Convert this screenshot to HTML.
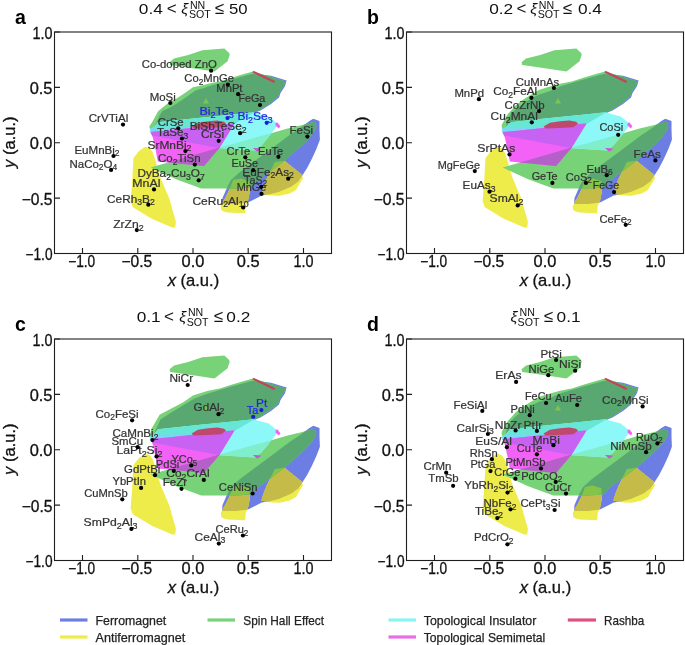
<!DOCTYPE html>
<html><head><meta charset="utf-8"><style>html,body{margin:0;padding:0;background:#fff;overflow:hidden}svg{display:block;will-change:transform}</style></head><body>
<svg width="685" height="645" viewBox="0 0 685 645" font-family='"Liberation Sans", sans-serif'>
<rect width="100%" height="100%" fill="#fff"/>
<defs><clipPath id="cB1a"><polygon points="505.7,127.5 508.3,123.1 511.4,115.7 514.5,111.0 521.6,107.7 528.9,103.4 537.7,97.5 547.9,90.2 557.0,87.8 560.0,86.5 583.4,79.6 604.4,73.8 612.0,74.5 623.0,75.8 638.6,80.4 637.0,86.2 632.5,93.0 631.0,97.5 623.0,104.0 612.5,110.5 606.5,113.0 575.0,115.5 550.0,118.0 510.0,122.3"/></clipPath><clipPath id="cB2a"><polygon points="576.7,193.0 580.0,185.5 583.0,180.0 592.0,172.0 606.0,161.5 625.0,147.5 640.5,135.8 652.1,128.1 661.4,121.1 665.3,118.8 671.5,121.1 671.5,129.6 671.9,139.7 668.4,149.0 663.8,159.1 659.1,168.0 654.0,176.0 650.5,181.3 643.5,186.5 631.3,191.8 620.8,194.4 613.8,195.5 600.0,202.6 588.0,204.0 574.0,204.0 574.5,198.0"/></clipPath><clipPath id="cG1a"><polygon points="501.3,126.6 504.4,121.8 510.1,111.3 514.3,107.7 521.6,101.9 528.9,98.2 537.7,92.4 545.0,87.3 557.0,84.8 560.0,83.7 571.7,81.4 583.4,77.8 595.0,74.3 605.0,71.4 622.0,76.5 637.6,81.4 635.7,85.9 631.3,92.6 629.8,97.0 622.3,103.0 611.9,109.7 606.0,112.6 586.9,123.7 584.7,123.5 503.9,131.4 502.0,129.0"/></clipPath><clipPath id="cG2a"><polygon points="502.6,167.6 521.0,162.2 571.6,147.5 622.3,133.6 639.6,128.6 654.5,124.9 665.7,121.8 666.9,121.9 668.4,127.3 663.8,135.1 657.6,142.0 650.6,148.2 644.4,153.7 636.8,160.4 622.5,171.2 611.1,179.5 603.5,187.4 588.0,188.5 576.7,188.5 553.2,188.4 550.6,187.5 528.2,179.2"/></clipPath><clipPath id="cCYa"><polygon points="502.5,128.5 505.7,127.5 510.0,122.3 550.0,118.0 575.0,115.5 605.5,112.3 611.4,114.0 620.7,116.4 627.7,122.2 630.5,123.5 627.5,128.0 619.0,139.0 613.0,146.0 607.0,150.5 572.0,148.2 504.0,135.5 501.5,131.0"/></clipPath><clipPath id="cY2a"><polygon points="626.9,162.0 636.5,160.7 654.0,174.7 654.9,178.6 651.4,183.9 647.9,190.0 641.8,193.5 631.3,195.7 620.8,195.3 613.3,193.5 615.5,186.5 619.0,177.8 622.5,170.8"/></clipPath><clipPath id="cY3a"><polygon points="581.7,188.8 585.2,179.8 592.9,178.4 601.3,181.2 602.0,190.9 599.9,201.4 597.8,205.6 597.1,213.3 579.0,212.6 573.4,210.5 572.7,206.3 575.5,200.7 577.2,197.9"/></clipPath></defs>
<g transform="translate(-352,0)">
<polygon points="505.7,127.5 508.3,123.1 511.4,115.7 514.5,111.0 521.6,107.7 528.9,103.4 537.7,97.5 547.9,90.2 557.0,87.8 560.0,86.5 583.4,79.6 604.4,73.8 612.0,74.5 623.0,75.8 638.6,80.4 637.0,86.2 632.5,93.0 631.0,97.5 623.0,104.0 612.5,110.5 606.5,113.0 575.0,115.5 550.0,118.0 510.0,122.3" fill="#6c7ee4"/>
<polygon points="576.7,193.0 580.0,185.5 583.0,180.0 592.0,172.0 606.0,161.5 625.0,147.5 640.5,135.8 652.1,128.1 661.4,121.1 665.3,118.8 671.5,121.1 671.5,129.6 671.9,139.7 668.4,149.0 663.8,159.1 659.1,168.0 654.0,176.0 650.5,181.3 643.5,186.5 631.3,191.8 620.8,194.4 613.8,195.5 600.0,202.6 588.0,204.0 574.0,204.0 574.5,198.0" fill="#6c7ee4"/>
<polygon points="485.5,158.0 491.0,151.0 497.5,146.5 502.0,148.5 504.5,152.0 508.0,162.1 509.4,168.0 512.6,178.0 521.3,198.4 527.9,221.8 527.2,227.6 524.2,227.6 503.8,218.8 484.8,207.2 482.6,201.3 484.0,183.8" fill="#eeec4a"/>
<polygon points="626.9,162.0 636.5,160.7 654.0,174.7 654.9,178.6 651.4,183.9 647.9,190.0 641.8,193.5 631.3,195.7 620.8,195.3 613.3,193.5 615.5,186.5 619.0,177.8 622.5,170.8" fill="#eeec4a"/>
<polygon points="581.7,188.8 585.2,179.8 592.9,178.4 601.3,181.2 602.0,190.9 599.9,201.4 597.8,205.6 597.1,213.3 579.0,212.6 573.4,210.5 572.7,206.3 575.5,200.7 577.2,197.9" fill="#eeec4a"/>
<g clip-path="url(#cB2a)"><polygon points="626.9,162.0 636.5,160.7 654.0,174.7 654.9,178.6 651.4,183.9 647.9,190.0 641.8,193.5 631.3,195.7 620.8,195.3 613.3,193.5 615.5,186.5 619.0,177.8 622.5,170.8" fill="#c4bb48"/><polygon points="581.7,188.8 585.2,179.8 592.9,178.4 601.3,181.2 602.0,190.9 599.9,201.4 597.8,205.6 597.1,213.3 579.0,212.6 573.4,210.5 572.7,206.3 575.5,200.7 577.2,197.9" fill="#c4bb48"/></g>
<polygon points="521.6,62.3 526.0,58.4 540.2,55.1 554.4,50.2 576.3,48.6 580.7,52.4 581.8,54.6 579.6,61.2 566.5,71.6 553.3,69.4 541.3,67.7 526.0,65.5 522.1,65.0" fill="#78d278"/>
<polygon points="501.3,126.6 504.4,121.8 510.1,111.3 514.3,107.7 521.6,101.9 528.9,98.2 537.7,92.4 545.0,87.3 557.0,84.8 560.0,83.7 571.7,81.4 583.4,77.8 595.0,74.3 605.0,71.4 622.0,76.5 637.6,81.4 635.7,85.9 631.3,92.6 629.8,97.0 622.3,103.0 611.9,109.7 606.0,112.6 586.9,123.7 584.7,123.5 503.9,131.4 502.0,129.0" fill="#78d278"/>
<polygon points="502.6,167.6 521.0,162.2 571.6,147.5 622.3,133.6 639.6,128.6 654.5,124.9 665.7,121.8 666.9,121.9 668.4,127.3 663.8,135.1 657.6,142.0 650.6,148.2 644.4,153.7 636.8,160.4 622.5,171.2 611.1,179.5 603.5,187.4 588.0,188.5 576.7,188.5 553.2,188.4 550.6,187.5 528.2,179.2" fill="#78d278"/>
<g clip-path="url(#cB1a)"><polygon points="501.3,126.6 504.4,121.8 510.1,111.3 514.3,107.7 521.6,101.9 528.9,98.2 537.7,92.4 545.0,87.3 557.0,84.8 560.0,83.7 571.7,81.4 583.4,77.8 595.0,74.3 605.0,71.4 622.0,76.5 637.6,81.4 635.7,85.9 631.3,92.6 629.8,97.0 622.3,103.0 611.9,109.7 606.0,112.6 586.9,123.7 584.7,123.5 503.9,131.4 502.0,129.0" fill="#59a872"/></g>
<g clip-path="url(#cB2a)"><polygon points="502.6,167.6 521.0,162.2 571.6,147.5 622.3,133.6 639.6,128.6 654.5,124.9 665.7,121.8 666.9,121.9 668.4,127.3 663.8,135.1 657.6,142.0 650.6,148.2 644.4,153.7 636.8,160.4 622.5,171.2 611.1,179.5 603.5,187.4 588.0,188.5 576.7,188.5 553.2,188.4 550.6,187.5 528.2,179.2" fill="#59a872"/></g>
<g clip-path="url(#cY2a)"><polygon points="502.6,167.6 521.0,162.2 571.6,147.5 622.3,133.6 639.6,128.6 654.5,124.9 665.7,121.8 666.9,121.9 668.4,127.3 663.8,135.1 657.6,142.0 650.6,148.2 644.4,153.7 636.8,160.4 622.5,171.2 611.1,179.5 603.5,187.4 588.0,188.5 576.7,188.5 553.2,188.4 550.6,187.5 528.2,179.2" fill="#84c44a"/></g>
<g clip-path="url(#cY3a)"><polygon points="502.6,167.6 521.0,162.2 571.6,147.5 622.3,133.6 639.6,128.6 654.5,124.9 665.7,121.8 666.9,121.9 668.4,127.3 663.8,135.1 657.6,142.0 650.6,148.2 644.4,153.7 636.8,160.4 622.5,171.2 611.1,179.5 603.5,187.4 588.0,188.5 576.7,188.5 553.2,188.4 550.6,187.5 528.2,179.2" fill="#84c44a"/></g>
<polygon points="502.5,128.5 505.7,127.5 510.0,122.3 550.0,118.0 575.0,115.5 605.5,112.3 611.4,114.0 620.7,116.4 627.7,122.2 630.5,123.5 627.5,128.0 619.0,139.0 613.0,146.0 607.0,150.5 572.0,148.2 504.0,135.5 501.5,131.0" fill="#8cf8f8"/>
<g clip-path="url(#cG1a)"><polygon points="502.5,128.5 505.7,127.5 510.0,122.3 550.0,118.0 575.0,115.5 605.5,112.3 611.4,114.0 620.7,116.4 627.7,122.2 630.5,123.5 627.5,128.0 619.0,139.0 613.0,146.0 607.0,150.5 572.0,148.2 504.0,135.5 501.5,131.0" fill="#66e6d4"/></g>
<g clip-path="url(#cG2a)"><polygon points="502.5,128.5 505.7,127.5 510.0,122.3 550.0,118.0 575.0,115.5 605.5,112.3 611.4,114.0 620.7,116.4 627.7,122.2 630.5,123.5 627.5,128.0 619.0,139.0 613.0,146.0 607.0,150.5 572.0,148.2 504.0,135.5 501.5,131.0" fill="#80eecb"/></g>
<polygon points="502.5,128.5 505.7,127.5 530.0,127.3 566.0,125.5 548.0,127.8 517.5,131.0 505.3,132.2 502.5,131.8" fill="#78d8f0"/>
<polygon points="502.5,132.0 517.5,130.8 548.0,127.5 584.7,123.5 586.5,123.5 571.6,147.8 556.0,166.0 509.8,161.5 508.0,152.0 505.0,138.0" fill="#f262f6"/>
<polygon points="627.6,123.0 629.5,122.5 632.4,126.2 630.8,128.6 627.5,125.5" fill="#f262f6"/>
<polygon points="605.1,147.9 613.2,148.7 609.2,151.6" fill="#f262f6"/>
<g clip-path="url(#cCYa)"><polygon points="502.5,132.0 517.5,130.8 548.0,127.5 584.7,123.5 586.5,123.5 571.6,147.8 556.0,166.0 509.8,161.5 508.0,152.0 505.0,138.0" fill="#c862f2"/></g>
<g clip-path="url(#cG2a)"><polygon points="502.5,132.0 517.5,130.8 548.0,127.5 584.7,123.5 586.5,123.5 571.6,147.8 556.0,166.0 509.8,161.5 508.0,152.0 505.0,138.0" fill="#b460c8"/><polygon points="605.1,147.9 613.2,148.7 609.2,151.6" fill="#b460c8"/></g>
<polygon points="543.5,126.5 550.0,122.8 560.0,121.3 569.4,120.5 576.0,121.8 578.0,123.6 573.5,127.2 560.0,128.0 545.5,128.6" fill="#c0486e"/>
<line x1="605" y1="71.6" x2="626.6" y2="82" stroke="#c8405a" stroke-width="2"/>
<polygon points="554.8,103.6 561.0,103.6 558.0,98.0" fill="#7cc450"/>
</g>
<g font-size="11.2" stroke-width="0.22">
<text x="141.7" y="68.0" textLength="75.2" lengthAdjust="spacingAndGlyphs" fill="#333333" stroke="#333333">Co-doped ZnO</text>
<text x="184.3" y="81.9" textLength="49.6" lengthAdjust="spacingAndGlyphs" fill="#333333" stroke="#333333">Co<tspan dy="2.6" font-size="8.2">2</tspan><tspan dy="-2.6">MnGe</tspan></text>
<text x="216.3" y="91.5" textLength="26.2" lengthAdjust="spacingAndGlyphs" fill="#333333" stroke="#333333">MnPt</text>
<text x="238.4" y="102.3" textLength="26.9" lengthAdjust="spacingAndGlyphs" fill="#333333" stroke="#333333">FeGa</text>
<text x="149.7" y="100.7" textLength="26.1" lengthAdjust="spacingAndGlyphs" fill="#333333" stroke="#333333">MoSi</text>
<text x="88.7" y="122.4" textLength="39.6" lengthAdjust="spacingAndGlyphs" fill="#333333" stroke="#333333">CrVTiAl</text>
<text x="199.4" y="115.2" textLength="34.5" lengthAdjust="spacingAndGlyphs" fill="#2424e6" stroke="#2424e6">Bi<tspan dy="2.6" font-size="8.2">2</tspan><tspan dy="-2.6">Te</tspan><tspan dy="2.6" font-size="8.2">3</tspan></text>
<text x="237.4" y="120.1" textLength="35.3" lengthAdjust="spacingAndGlyphs" fill="#2424e6" stroke="#2424e6">Bi<tspan dy="2.6" font-size="8.2">2</tspan><tspan dy="-2.6">Se</tspan><tspan dy="2.6" font-size="8.2">3</tspan></text>
<text x="157.7" y="125.8" textLength="25.9" lengthAdjust="spacingAndGlyphs" fill="#333333" stroke="#333333">CrSe</text>
<text x="189.7" y="130.0" textLength="56.9" lengthAdjust="spacingAndGlyphs" fill="#333333" stroke="#333333">BiSbTeSe<tspan dy="2.6" font-size="8.2">2</tspan></text>
<text x="157.1" y="136.0" textLength="31.2" lengthAdjust="spacingAndGlyphs" fill="#333333" stroke="#333333">TaSe<tspan dy="2.6" font-size="8.2">3</tspan></text>
<text x="201.0" y="138.4" textLength="23.1" lengthAdjust="spacingAndGlyphs" fill="#333333" stroke="#333333">CrSi</text>
<text x="147.5" y="148.6" textLength="43.9" lengthAdjust="spacingAndGlyphs" fill="#333333" stroke="#333333">SrMnBi<tspan dy="2.6" font-size="8.2">2</tspan></text>
<text x="158.1" y="161.9" textLength="42.5" lengthAdjust="spacingAndGlyphs" fill="#333333" stroke="#333333">Co<tspan dy="2.6" font-size="8.2">2</tspan><tspan dy="-2.6">TiSn</tspan></text>
<text x="137.4" y="177.4" textLength="67.3" lengthAdjust="spacingAndGlyphs" fill="#333333" stroke="#333333">DyBa<tspan dy="2.6" font-size="8.2">2</tspan><tspan dy="-2.6">Cu</tspan><tspan dy="2.6" font-size="8.2">3</tspan><tspan dy="-2.6">O</tspan><tspan dy="2.6" font-size="8.2">7</tspan></text>
<text x="132.3" y="186.9" textLength="28.1" lengthAdjust="spacingAndGlyphs" fill="#333333" stroke="#333333">MnAl</text>
<text x="107.1" y="202.6" textLength="47.6" lengthAdjust="spacingAndGlyphs" fill="#333333" stroke="#333333">CeRh<tspan dy="2.6" font-size="8.2">3</tspan><tspan dy="-2.6">B</tspan><tspan dy="2.6" font-size="8.2">2</tspan></text>
<text x="113.2" y="228.1" textLength="30.5" lengthAdjust="spacingAndGlyphs" fill="#333333" stroke="#333333">ZrZn<tspan dy="2.6" font-size="8.2">2</tspan></text>
<text x="74.4" y="153.5" textLength="45.2" lengthAdjust="spacingAndGlyphs" fill="#333333" stroke="#333333">EuMnBi<tspan dy="2.6" font-size="8.2">2</tspan></text>
<text x="69.5" y="167.8" textLength="47.6" lengthAdjust="spacingAndGlyphs" fill="#333333" stroke="#333333">NaCo<tspan dy="2.6" font-size="8.2">2</tspan><tspan dy="-2.6">O</tspan><tspan dy="2.6" font-size="8.2">4</tspan></text>
<text x="226.6" y="154.7" textLength="23.8" lengthAdjust="spacingAndGlyphs" fill="#333333" stroke="#333333">CrTe</text>
<text x="258.1" y="154.6" textLength="25.1" lengthAdjust="spacingAndGlyphs" fill="#333333" stroke="#333333">EuTe</text>
<text x="289.5" y="133.8" textLength="23.6" lengthAdjust="spacingAndGlyphs" fill="#333333" stroke="#333333">FeSi</text>
<text x="231.4" y="166.5" textLength="26.7" lengthAdjust="spacingAndGlyphs" fill="#333333" stroke="#333333">EuSe</text>
<text x="242.3" y="175.6" textLength="51.6" lengthAdjust="spacingAndGlyphs" fill="#333333" stroke="#333333">EuFe<tspan dy="2.6" font-size="8.2">2</tspan><tspan dy="-2.6">As</tspan><tspan dy="2.6" font-size="8.2">2</tspan></text>
<text x="244.1" y="183.5" textLength="23.0" lengthAdjust="spacingAndGlyphs" fill="#333333" stroke="#333333">TaS<tspan dy="2.6" font-size="8.2">2</tspan></text>
<text x="236.7" y="191.0" textLength="29.6" lengthAdjust="spacingAndGlyphs" fill="#333333" stroke="#333333">MnGe</text>
<text x="192.4" y="204.8" textLength="56.2" lengthAdjust="spacingAndGlyphs" fill="#333333" stroke="#333333">CeRu<tspan dy="2.6" font-size="8.2">2</tspan><tspan dy="-2.6">Al</tspan><tspan dy="2.6" font-size="8.2">10</tspan></text>
</g>
<circle cx="211.1" cy="70.7" r="2.1" fill="#000"/>
<circle cx="227.9" cy="84.6" r="2.1" fill="#000"/>
<circle cx="238.1" cy="94.2" r="2.1" fill="#000"/>
<circle cx="260.0" cy="105.0" r="2.1" fill="#000"/>
<circle cx="170.3" cy="103.0" r="2.1" fill="#000"/>
<circle cx="123.0" cy="124.6" r="2.1" fill="#000"/>
<circle cx="227.5" cy="118.1" r="2.1" fill="#1a1ae0"/>
<circle cx="266.7" cy="122.8" r="2.1" fill="#1a1ae0"/>
<circle cx="178.2" cy="128.3" r="2.1" fill="#000"/>
<circle cx="240.1" cy="133.2" r="2.1" fill="#000"/>
<circle cx="181.9" cy="138.5" r="2.1" fill="#000"/>
<circle cx="218.7" cy="140.8" r="2.1" fill="#000"/>
<circle cx="185.4" cy="151.1" r="2.1" fill="#000"/>
<circle cx="194.8" cy="164.6" r="2.1" fill="#000"/>
<circle cx="198.7" cy="180.3" r="2.1" fill="#000"/>
<circle cx="154.0" cy="189.4" r="2.1" fill="#000"/>
<circle cx="148.3" cy="204.7" r="2.1" fill="#000"/>
<circle cx="136.8" cy="230.1" r="2.1" fill="#000"/>
<circle cx="113.5" cy="156.0" r="2.1" fill="#000"/>
<circle cx="111.1" cy="169.9" r="2.1" fill="#000"/>
<circle cx="245.3" cy="157.3" r="2.1" fill="#000"/>
<circle cx="278.4" cy="156.8" r="2.1" fill="#000"/>
<circle cx="307.4" cy="136.6" r="2.1" fill="#000"/>
<circle cx="253.2" cy="170.2" r="2.1" fill="#000"/>
<circle cx="288.2" cy="178.7" r="2.1" fill="#000"/>
<circle cx="261.2" cy="186.8" r="2.1" fill="#000"/>
<circle cx="261.5" cy="193.8" r="2.1" fill="#000"/>
<circle cx="243.2" cy="207.5" r="2.1" fill="#000"/>
<rect x="54.5" y="32.0" width="277.0" height="221.5" fill="none" stroke="#1e1e1e" stroke-width="1.1"/>
<path d="M82.5 253.5v-5.5M54.5 253.5h5.5M137.8 253.5v-5.5M54.5 198.1h5.5M193.0 253.5v-5.5M54.5 142.8h5.5M248.2 253.5v-5.5M54.5 87.4h5.5M303.5 253.5v-5.5M54.5 32.0h5.5" stroke="#1e1e1e" stroke-width="1.1" fill="none"/>
<g font-size="15.8" fill="#111" stroke="#111" stroke-width="0.3">
<text x="81.7" y="266.9" text-anchor="middle" textLength="27.0" lengthAdjust="spacingAndGlyphs">−1.0</text>
<text x="52.5" y="260.1" text-anchor="end" textLength="27.0" lengthAdjust="spacingAndGlyphs">−1.0</text>
<text x="136.9" y="266.9" text-anchor="middle" textLength="30.8" lengthAdjust="spacingAndGlyphs">−0.5</text>
<text x="52.5" y="204.7" text-anchor="end" textLength="30.8" lengthAdjust="spacingAndGlyphs">−0.5</text>
<text x="193.0" y="266.9" text-anchor="middle" textLength="22.8" lengthAdjust="spacingAndGlyphs">0.0</text>
<text x="52.5" y="149.3" text-anchor="end" textLength="22.8" lengthAdjust="spacingAndGlyphs">0.0</text>
<text x="248.2" y="266.9" text-anchor="middle" textLength="22.8" lengthAdjust="spacingAndGlyphs">0.5</text>
<text x="52.5" y="94.0" text-anchor="end" textLength="22.8" lengthAdjust="spacingAndGlyphs">0.5</text>
<text x="303.5" y="266.9" text-anchor="middle" textLength="20.0" lengthAdjust="spacingAndGlyphs">1.0</text>
<text x="52.5" y="38.6" text-anchor="end" textLength="20.0" lengthAdjust="spacingAndGlyphs">1.0</text>
</g>
<text x="193.4" y="286.4" font-size="16.6" text-anchor="middle" fill="#111" stroke="#111" stroke-width="0.3" textLength="51.5" lengthAdjust="spacingAndGlyphs"><tspan font-style="italic">x</tspan> (a.u.)</text>
<text transform="translate(14.9,142.2) rotate(-90)" font-size="16.6" text-anchor="middle" fill="#111" stroke="#111" stroke-width="0.3" textLength="51.5" lengthAdjust="spacingAndGlyphs"><tspan font-style="italic">y</tspan> (a.u.)</text>
<text x="14.9" y="23.7" font-size="19.5" font-weight="bold" fill="#000">a</text>
<text x="150.8" y="14.2" font-size="15.3" text-anchor="middle" fill="#111" textLength="24.0" lengthAdjust="spacingAndGlyphs">0.4</text>
<text x="171.7" y="14.2" font-size="17" text-anchor="middle" fill="#111"><</text>
<text x="184.6" y="14.2" font-size="15.5" font-style="italic" text-anchor="middle" fill="#111">ξ</text>
<text x="197.6" y="8.9" font-size="10.6" text-anchor="middle" fill="#111">NN</text>
<text x="199.8" y="18.4" font-size="10.6" text-anchor="middle" fill="#111">SOT</text>
<text x="219.5" y="14.2" font-size="17" text-anchor="middle" fill="#111">≤</text>
<text x="238.3" y="14.2" font-size="15.3" text-anchor="middle" fill="#111" textLength="18.6" lengthAdjust="spacingAndGlyphs">50</text>
<defs><clipPath id="cB1b"><polygon points="505.7,127.5 507.5,119.0 510.9,114.1 515.5,109.5 523.3,103.3 532.6,97.8 538.8,94.7 550.0,90.9 560.0,86.5 583.4,79.6 604.4,73.8 612.0,74.5 623.0,75.8 638.6,80.4 637.0,86.2 632.5,93.0 631.0,97.5 623.0,104.0 612.5,110.5 606.5,113.0 575.0,115.5 550.0,118.0 510.0,122.3"/></clipPath><clipPath id="cB2b"><polygon points="576.7,193.0 580.0,185.5 583.0,180.0 592.0,172.0 606.0,161.5 625.0,147.5 640.5,135.8 652.1,128.1 661.4,121.1 665.3,118.8 671.5,121.1 671.5,129.6 671.9,139.7 668.4,149.0 663.8,159.1 659.1,168.0 654.0,176.0 650.5,181.3 643.5,186.5 631.3,191.8 620.8,194.4 613.8,195.5 600.0,202.6 588.0,204.0 574.0,204.0 574.5,198.0"/></clipPath><clipPath id="cG1b"><polygon points="501.6,125.0 507.8,114.1 515.5,105.6 523.3,99.4 531.0,94.7 538.8,90.1 546.5,87.4 560.0,83.7 571.7,81.4 583.4,77.8 595.0,74.3 605.0,71.4 622.0,76.5 637.6,81.4 635.7,85.9 631.3,92.6 629.8,97.0 622.3,103.0 611.9,109.7 606.0,112.6 586.9,123.7 584.7,123.5 503.9,131.4 502.0,129.0"/></clipPath><clipPath id="cG2b"><polygon points="502.6,167.6 521.0,162.2 571.6,147.5 622.3,133.6 639.6,128.6 654.5,124.9 665.7,121.8 666.9,121.9 668.4,127.3 663.8,135.1 657.6,142.0 650.6,148.2 644.4,153.7 636.8,160.4 622.5,171.2 611.1,179.5 603.5,187.4 588.0,188.5 576.7,188.5 553.2,188.4 550.6,187.5 528.2,179.2"/></clipPath><clipPath id="cCYb"><polygon points="502.5,128.5 505.7,127.5 510.0,122.3 550.0,118.0 575.0,115.5 605.5,112.3 611.4,114.0 620.7,116.4 627.7,122.2 630.5,123.5 627.5,128.0 619.0,139.0 613.0,146.0 607.0,150.5 572.0,148.2 504.0,135.5 501.5,131.0"/></clipPath><clipPath id="cY2b"><polygon points="626.9,162.0 636.5,160.7 654.0,174.7 654.9,178.6 651.4,183.9 647.9,190.0 641.8,193.5 631.3,195.7 620.8,195.3 613.3,193.5 615.5,186.5 619.0,177.8 622.5,170.8"/></clipPath><clipPath id="cY3b"><polygon points="581.7,188.8 585.2,179.8 592.9,178.4 601.3,181.2 602.0,190.9 599.9,201.4 597.8,205.6 597.1,213.3 579.0,212.6 573.4,210.5 572.7,206.3 575.5,200.7 577.2,197.9"/></clipPath></defs>
<g transform="translate(0,0)">
<polygon points="505.7,127.5 507.5,119.0 510.9,114.1 515.5,109.5 523.3,103.3 532.6,97.8 538.8,94.7 550.0,90.9 560.0,86.5 583.4,79.6 604.4,73.8 612.0,74.5 623.0,75.8 638.6,80.4 637.0,86.2 632.5,93.0 631.0,97.5 623.0,104.0 612.5,110.5 606.5,113.0 575.0,115.5 550.0,118.0 510.0,122.3" fill="#6c7ee4"/>
<polygon points="576.7,193.0 580.0,185.5 583.0,180.0 592.0,172.0 606.0,161.5 625.0,147.5 640.5,135.8 652.1,128.1 661.4,121.1 665.3,118.8 671.5,121.1 671.5,129.6 671.9,139.7 668.4,149.0 663.8,159.1 659.1,168.0 654.0,176.0 650.5,181.3 643.5,186.5 631.3,191.8 620.8,194.4 613.8,195.5 600.0,202.6 588.0,204.0 574.0,204.0 574.5,198.0" fill="#6c7ee4"/>
<polygon points="485.5,158.0 491.0,151.0 497.5,146.5 502.0,148.5 504.5,152.0 508.0,162.1 509.4,168.0 512.6,178.0 521.3,198.4 527.9,221.8 527.2,227.6 524.2,227.6 503.8,218.8 484.8,207.2 482.6,201.3 484.0,183.8" fill="#eeec4a"/>
<polygon points="626.9,162.0 636.5,160.7 654.0,174.7 654.9,178.6 651.4,183.9 647.9,190.0 641.8,193.5 631.3,195.7 620.8,195.3 613.3,193.5 615.5,186.5 619.0,177.8 622.5,170.8" fill="#eeec4a"/>
<polygon points="581.7,188.8 585.2,179.8 592.9,178.4 601.3,181.2 602.0,190.9 599.9,201.4 597.8,205.6 597.1,213.3 579.0,212.6 573.4,210.5 572.7,206.3 575.5,200.7 577.2,197.9" fill="#eeec4a"/>
<g clip-path="url(#cB2b)"><polygon points="626.9,162.0 636.5,160.7 654.0,174.7 654.9,178.6 651.4,183.9 647.9,190.0 641.8,193.5 631.3,195.7 620.8,195.3 613.3,193.5 615.5,186.5 619.0,177.8 622.5,170.8" fill="#c4bb48"/><polygon points="581.7,188.8 585.2,179.8 592.9,178.4 601.3,181.2 602.0,190.9 599.9,201.4 597.8,205.6 597.1,213.3 579.0,212.6 573.4,210.5 572.7,206.3 575.5,200.7 577.2,197.9" fill="#c4bb48"/></g>
<polygon points="521.6,62.3 526.0,58.4 540.2,55.1 554.4,50.2 576.3,48.6 580.7,52.4 581.8,54.6 579.6,61.2 566.5,71.6 553.3,69.4 541.3,67.7 526.0,65.5 522.1,65.0" fill="#78d278"/>
<polygon points="501.6,125.0 507.8,114.1 515.5,105.6 523.3,99.4 531.0,94.7 538.8,90.1 546.5,87.4 560.0,83.7 571.7,81.4 583.4,77.8 595.0,74.3 605.0,71.4 622.0,76.5 637.6,81.4 635.7,85.9 631.3,92.6 629.8,97.0 622.3,103.0 611.9,109.7 606.0,112.6 586.9,123.7 584.7,123.5 503.9,131.4 502.0,129.0" fill="#78d278"/>
<polygon points="502.6,167.6 521.0,162.2 571.6,147.5 622.3,133.6 639.6,128.6 654.5,124.9 665.7,121.8 666.9,121.9 668.4,127.3 663.8,135.1 657.6,142.0 650.6,148.2 644.4,153.7 636.8,160.4 622.5,171.2 611.1,179.5 603.5,187.4 588.0,188.5 576.7,188.5 553.2,188.4 550.6,187.5 528.2,179.2" fill="#78d278"/>
<g clip-path="url(#cB1b)"><polygon points="501.6,125.0 507.8,114.1 515.5,105.6 523.3,99.4 531.0,94.7 538.8,90.1 546.5,87.4 560.0,83.7 571.7,81.4 583.4,77.8 595.0,74.3 605.0,71.4 622.0,76.5 637.6,81.4 635.7,85.9 631.3,92.6 629.8,97.0 622.3,103.0 611.9,109.7 606.0,112.6 586.9,123.7 584.7,123.5 503.9,131.4 502.0,129.0" fill="#59a872"/></g>
<g clip-path="url(#cB2b)"><polygon points="502.6,167.6 521.0,162.2 571.6,147.5 622.3,133.6 639.6,128.6 654.5,124.9 665.7,121.8 666.9,121.9 668.4,127.3 663.8,135.1 657.6,142.0 650.6,148.2 644.4,153.7 636.8,160.4 622.5,171.2 611.1,179.5 603.5,187.4 588.0,188.5 576.7,188.5 553.2,188.4 550.6,187.5 528.2,179.2" fill="#59a872"/></g>
<g clip-path="url(#cY2b)"><polygon points="502.6,167.6 521.0,162.2 571.6,147.5 622.3,133.6 639.6,128.6 654.5,124.9 665.7,121.8 666.9,121.9 668.4,127.3 663.8,135.1 657.6,142.0 650.6,148.2 644.4,153.7 636.8,160.4 622.5,171.2 611.1,179.5 603.5,187.4 588.0,188.5 576.7,188.5 553.2,188.4 550.6,187.5 528.2,179.2" fill="#84c44a"/></g>
<g clip-path="url(#cY3b)"><polygon points="502.6,167.6 521.0,162.2 571.6,147.5 622.3,133.6 639.6,128.6 654.5,124.9 665.7,121.8 666.9,121.9 668.4,127.3 663.8,135.1 657.6,142.0 650.6,148.2 644.4,153.7 636.8,160.4 622.5,171.2 611.1,179.5 603.5,187.4 588.0,188.5 576.7,188.5 553.2,188.4 550.6,187.5 528.2,179.2" fill="#84c44a"/></g>
<polygon points="502.5,128.5 505.7,127.5 510.0,122.3 550.0,118.0 575.0,115.5 605.5,112.3 611.4,114.0 620.7,116.4 627.7,122.2 630.5,123.5 627.5,128.0 619.0,139.0 613.0,146.0 607.0,150.5 572.0,148.2 504.0,135.5 501.5,131.0" fill="#8cf8f8"/>
<g clip-path="url(#cG1b)"><polygon points="502.5,128.5 505.7,127.5 510.0,122.3 550.0,118.0 575.0,115.5 605.5,112.3 611.4,114.0 620.7,116.4 627.7,122.2 630.5,123.5 627.5,128.0 619.0,139.0 613.0,146.0 607.0,150.5 572.0,148.2 504.0,135.5 501.5,131.0" fill="#66e6d4"/></g>
<g clip-path="url(#cG2b)"><polygon points="502.5,128.5 505.7,127.5 510.0,122.3 550.0,118.0 575.0,115.5 605.5,112.3 611.4,114.0 620.7,116.4 627.7,122.2 630.5,123.5 627.5,128.0 619.0,139.0 613.0,146.0 607.0,150.5 572.0,148.2 504.0,135.5 501.5,131.0" fill="#80eecb"/></g>
<polygon points="502.5,128.5 505.7,127.5 530.0,127.3 566.0,125.5 548.0,127.8 517.5,131.0 505.3,132.2 502.5,131.8" fill="#78d8f0"/>
<polygon points="502.5,132.0 517.5,130.8 548.0,127.5 584.7,123.5 586.5,123.5 571.6,147.8 556.0,166.0 509.8,161.5 508.0,152.0 505.0,138.0" fill="#f262f6"/>
<polygon points="627.6,123.0 629.5,122.5 632.4,126.2 630.8,128.6 627.5,125.5" fill="#f262f6"/>
<polygon points="605.1,147.9 613.2,148.7 609.2,151.6" fill="#f262f6"/>
<g clip-path="url(#cCYb)"><polygon points="502.5,132.0 517.5,130.8 548.0,127.5 584.7,123.5 586.5,123.5 571.6,147.8 556.0,166.0 509.8,161.5 508.0,152.0 505.0,138.0" fill="#c862f2"/></g>
<g clip-path="url(#cG2b)"><polygon points="502.5,132.0 517.5,130.8 548.0,127.5 584.7,123.5 586.5,123.5 571.6,147.8 556.0,166.0 509.8,161.5 508.0,152.0 505.0,138.0" fill="#b460c8"/><polygon points="605.1,147.9 613.2,148.7 609.2,151.6" fill="#b460c8"/></g>
<polygon points="543.5,126.5 550.0,122.8 560.0,121.3 569.4,120.5 576.0,121.8 578.0,123.6 573.5,127.2 560.0,128.0 545.5,128.6" fill="#c0486e"/>
<line x1="605" y1="71.6" x2="626.6" y2="82" stroke="#c8405a" stroke-width="2"/>
<polygon points="554.8,103.6 561.0,103.6 558.0,98.0" fill="#7cc450"/>
</g>
<g font-size="11.2" stroke-width="0.22">
<text x="454.4" y="96.8" textLength="29.7" lengthAdjust="spacingAndGlyphs" fill="#333333" stroke="#333333">MnPd</text>
<text x="515.8" y="85.5" textLength="43.5" lengthAdjust="spacingAndGlyphs" fill="#333333" stroke="#333333">CuMnAs</text>
<text x="493.3" y="95.4" textLength="43.9" lengthAdjust="spacingAndGlyphs" fill="#333333" stroke="#333333">Co<tspan dy="2.6" font-size="8.2">2</tspan><tspan dy="-2.6">FeAl</tspan></text>
<text x="504.5" y="108.6" textLength="40.1" lengthAdjust="spacingAndGlyphs" fill="#333333" stroke="#333333">CoZrNb</text>
<text x="490.6" y="119.9" textLength="47.2" lengthAdjust="spacingAndGlyphs" fill="#333333" stroke="#333333">Cu<tspan dy="2.6" font-size="8.2">2</tspan><tspan dy="-2.6">MnAl</tspan></text>
<text x="477.3" y="151.6" textLength="38.0" lengthAdjust="spacingAndGlyphs" fill="#333333" stroke="#333333">SrPtAs</text>
<text x="437.7" y="168.6" textLength="42.3" lengthAdjust="spacingAndGlyphs" fill="#333333" stroke="#333333">MgFeGe</text>
<text x="462.6" y="189.0" textLength="32.9" lengthAdjust="spacingAndGlyphs" fill="#333333" stroke="#333333">EuAs<tspan dy="2.6" font-size="8.2">3</tspan></text>
<text x="489.6" y="202.3" textLength="33.9" lengthAdjust="spacingAndGlyphs" fill="#333333" stroke="#333333">SmAl<tspan dy="2.6" font-size="8.2">2</tspan></text>
<text x="531.7" y="179.9" textLength="25.9" lengthAdjust="spacingAndGlyphs" fill="#333333" stroke="#333333">GeTe</text>
<text x="599.4" y="131.3" textLength="23.9" lengthAdjust="spacingAndGlyphs" fill="#333333" stroke="#333333">CoSi</text>
<text x="633.6" y="158.0" textLength="27.2" lengthAdjust="spacingAndGlyphs" fill="#333333" stroke="#333333">FeAs</text>
<text x="586.6" y="172.7" textLength="26.1" lengthAdjust="spacingAndGlyphs" fill="#333333" stroke="#333333">EuB<tspan dy="2.6" font-size="8.2">6</tspan></text>
<text x="565.7" y="180.5" textLength="26.2" lengthAdjust="spacingAndGlyphs" fill="#333333" stroke="#333333">CoS<tspan dy="2.6" font-size="8.2">2</tspan></text>
<text x="592.7" y="189.0" textLength="26.6" lengthAdjust="spacingAndGlyphs" fill="#333333" stroke="#333333">FeGe</text>
<text x="599.5" y="222.8" textLength="32.0" lengthAdjust="spacingAndGlyphs" fill="#333333" stroke="#333333">CeFe<tspan dy="2.6" font-size="8.2">2</tspan></text>
</g>
<circle cx="478.9" cy="99.2" r="2.1" fill="#000"/>
<circle cx="553.9" cy="88.0" r="2.1" fill="#000"/>
<circle cx="531.4" cy="97.8" r="2.1" fill="#000"/>
<circle cx="539.1" cy="111.1" r="2.1" fill="#000"/>
<circle cx="531.8" cy="122.3" r="2.1" fill="#000"/>
<circle cx="509.5" cy="154.4" r="2.1" fill="#000"/>
<circle cx="474.8" cy="171.1" r="2.1" fill="#000"/>
<circle cx="489.5" cy="191.7" r="2.1" fill="#000"/>
<circle cx="517.7" cy="205.4" r="2.1" fill="#000"/>
<circle cx="552.4" cy="182.9" r="2.1" fill="#000"/>
<circle cx="618.2" cy="134.8" r="2.1" fill="#000"/>
<circle cx="655.4" cy="160.4" r="2.1" fill="#000"/>
<circle cx="606.7" cy="175.2" r="2.1" fill="#000"/>
<circle cx="585.9" cy="182.9" r="2.1" fill="#000"/>
<circle cx="614.1" cy="192.1" r="2.1" fill="#000"/>
<circle cx="625.7" cy="224.8" r="2.1" fill="#000"/>
<rect x="406.5" y="32.0" width="277.0" height="221.5" fill="none" stroke="#1e1e1e" stroke-width="1.1"/>
<path d="M434.5 253.5v-5.5M406.5 253.5h5.5M489.8 253.5v-5.5M406.5 198.1h5.5M545.0 253.5v-5.5M406.5 142.8h5.5M600.2 253.5v-5.5M406.5 87.4h5.5M655.5 253.5v-5.5M406.5 32.0h5.5" stroke="#1e1e1e" stroke-width="1.1" fill="none"/>
<g font-size="15.8" fill="#111" stroke="#111" stroke-width="0.3">
<text x="433.7" y="266.9" text-anchor="middle" textLength="27.0" lengthAdjust="spacingAndGlyphs">−1.0</text>
<text x="404.5" y="260.1" text-anchor="end" textLength="27.0" lengthAdjust="spacingAndGlyphs">−1.0</text>
<text x="488.9" y="266.9" text-anchor="middle" textLength="30.8" lengthAdjust="spacingAndGlyphs">−0.5</text>
<text x="404.5" y="204.7" text-anchor="end" textLength="30.8" lengthAdjust="spacingAndGlyphs">−0.5</text>
<text x="545.0" y="266.9" text-anchor="middle" textLength="22.8" lengthAdjust="spacingAndGlyphs">0.0</text>
<text x="404.5" y="149.3" text-anchor="end" textLength="22.8" lengthAdjust="spacingAndGlyphs">0.0</text>
<text x="600.2" y="266.9" text-anchor="middle" textLength="22.8" lengthAdjust="spacingAndGlyphs">0.5</text>
<text x="404.5" y="94.0" text-anchor="end" textLength="22.8" lengthAdjust="spacingAndGlyphs">0.5</text>
<text x="655.5" y="266.9" text-anchor="middle" textLength="20.0" lengthAdjust="spacingAndGlyphs">1.0</text>
<text x="404.5" y="38.6" text-anchor="end" textLength="20.0" lengthAdjust="spacingAndGlyphs">1.0</text>
</g>
<text x="545.4" y="286.4" font-size="16.6" text-anchor="middle" fill="#111" stroke="#111" stroke-width="0.3" textLength="51.5" lengthAdjust="spacingAndGlyphs"><tspan font-style="italic">x</tspan> (a.u.)</text>
<text transform="translate(366.9,142.2) rotate(-90)" font-size="16.6" text-anchor="middle" fill="#111" stroke="#111" stroke-width="0.3" textLength="51.5" lengthAdjust="spacingAndGlyphs"><tspan font-style="italic">y</tspan> (a.u.)</text>
<text x="366.9" y="23.7" font-size="19.5" font-weight="bold" fill="#000">b</text>
<text x="501.2" y="14.2" font-size="15.3" text-anchor="middle" fill="#111" textLength="24.0" lengthAdjust="spacingAndGlyphs">0.2</text>
<text x="521.4" y="14.2" font-size="17" text-anchor="middle" fill="#111"><</text>
<text x="533.6" y="14.2" font-size="15.5" font-style="italic" text-anchor="middle" fill="#111">ξ</text>
<text x="546.5" y="8.9" font-size="10.6" text-anchor="middle" fill="#111">NN</text>
<text x="548.7" y="18.4" font-size="10.6" text-anchor="middle" fill="#111">SOT</text>
<text x="567.4" y="14.2" font-size="17" text-anchor="middle" fill="#111">≤</text>
<text x="589.9" y="14.2" font-size="15.3" text-anchor="middle" fill="#111" textLength="24.0" lengthAdjust="spacingAndGlyphs">0.4</text>
<defs><clipPath id="cB1c"><polygon points="505.7,127.5 509.3,119.4 512.4,112.5 523.3,105.5 534.9,98.5 546.5,91.5 560.0,86.5 583.4,79.6 604.4,73.8 612.0,74.5 623.0,75.8 638.6,80.4 637.0,86.2 632.5,93.0 631.0,97.5 623.0,104.0 612.5,110.5 606.5,113.0 575.0,115.5 550.0,118.0 510.0,122.3"/></clipPath><clipPath id="cB2c"><polygon points="576.7,193.0 580.0,185.5 583.0,180.0 592.0,172.0 606.0,161.5 625.0,147.5 640.5,135.8 652.1,128.1 661.4,121.1 665.3,118.8 671.5,121.1 671.5,129.6 671.9,139.7 668.4,149.0 663.8,159.1 659.1,168.0 654.0,176.0 650.5,181.3 643.5,186.5 631.3,191.8 620.8,194.4 613.8,195.5 600.0,202.6 588.0,204.0 574.0,204.0 574.5,198.0"/></clipPath><clipPath id="cG1c"><polygon points="503.1,122.5 511.6,107.8 523.3,101.6 534.9,95.4 545.0,88.4 552.0,86.2 560.0,83.7 571.7,81.4 583.4,77.8 595.0,74.3 605.0,71.4 622.0,76.5 637.6,81.4 635.7,85.9 631.3,92.6 629.8,97.0 622.3,103.0 611.9,109.7 606.0,112.6 586.9,123.7 584.7,123.5 503.9,131.4 502.0,129.0"/></clipPath><clipPath id="cG2c"><polygon points="502.6,167.6 521.0,162.2 571.6,147.5 622.3,133.6 639.6,128.6 654.5,124.9 665.7,121.8 666.9,121.9 668.4,127.3 663.8,135.1 657.6,142.0 650.6,148.2 644.4,153.7 636.8,160.4 622.5,171.2 611.1,179.5 603.5,187.4 588.0,188.5 576.7,188.5 553.2,188.4 550.6,187.5 528.2,179.2"/></clipPath><clipPath id="cCYc"><polygon points="502.5,128.5 505.7,127.5 510.0,122.3 550.0,118.0 575.0,115.5 605.5,112.3 611.4,114.0 620.7,116.4 627.7,122.2 630.5,123.5 627.5,128.0 619.0,139.0 613.0,146.0 607.0,150.5 572.0,148.2 504.0,135.5 501.5,131.0"/></clipPath><clipPath id="cY2c"><polygon points="626.9,162.0 636.5,160.7 654.0,174.7 654.9,178.6 651.4,183.9 647.9,190.0 641.8,193.5 631.3,195.7 620.8,195.3 613.3,193.5 615.5,186.5 619.0,177.8 622.5,170.8"/></clipPath><clipPath id="cY3c"><polygon points="581.7,188.8 585.2,179.8 592.9,178.4 601.3,181.2 602.0,190.9 599.9,201.4 597.8,205.6 597.1,213.3 579.0,212.6 573.4,210.5 572.7,206.3 575.5,200.7 577.2,197.9"/></clipPath></defs>
<g transform="translate(-352,307)">
<polygon points="505.7,127.5 509.3,119.4 512.4,112.5 523.3,105.5 534.9,98.5 546.5,91.5 560.0,86.5 583.4,79.6 604.4,73.8 612.0,74.5 623.0,75.8 638.6,80.4 637.0,86.2 632.5,93.0 631.0,97.5 623.0,104.0 612.5,110.5 606.5,113.0 575.0,115.5 550.0,118.0 510.0,122.3" fill="#6c7ee4"/>
<polygon points="576.7,193.0 580.0,185.5 583.0,180.0 592.0,172.0 606.0,161.5 625.0,147.5 640.5,135.8 652.1,128.1 661.4,121.1 665.3,118.8 671.5,121.1 671.5,129.6 671.9,139.7 668.4,149.0 663.8,159.1 659.1,168.0 654.0,176.0 650.5,181.3 643.5,186.5 631.3,191.8 620.8,194.4 613.8,195.5 600.0,202.6 588.0,204.0 574.0,204.0 574.5,198.0" fill="#6c7ee4"/>
<polygon points="485.5,158.0 491.0,151.0 497.5,146.5 502.0,148.5 504.5,152.0 508.0,162.1 509.4,168.0 512.6,178.0 521.3,198.4 527.9,221.8 527.2,227.6 524.2,227.6 503.8,218.8 484.8,207.2 482.6,201.3 484.0,183.8" fill="#eeec4a"/>
<polygon points="626.9,162.0 636.5,160.7 654.0,174.7 654.9,178.6 651.4,183.9 647.9,190.0 641.8,193.5 631.3,195.7 620.8,195.3 613.3,193.5 615.5,186.5 619.0,177.8 622.5,170.8" fill="#eeec4a"/>
<polygon points="581.7,188.8 585.2,179.8 592.9,178.4 601.3,181.2 602.0,190.9 599.9,201.4 597.8,205.6 597.1,213.3 579.0,212.6 573.4,210.5 572.7,206.3 575.5,200.7 577.2,197.9" fill="#eeec4a"/>
<g clip-path="url(#cB2c)"><polygon points="626.9,162.0 636.5,160.7 654.0,174.7 654.9,178.6 651.4,183.9 647.9,190.0 641.8,193.5 631.3,195.7 620.8,195.3 613.3,193.5 615.5,186.5 619.0,177.8 622.5,170.8" fill="#c4bb48"/><polygon points="581.7,188.8 585.2,179.8 592.9,178.4 601.3,181.2 602.0,190.9 599.9,201.4 597.8,205.6 597.1,213.3 579.0,212.6 573.4,210.5 572.7,206.3 575.5,200.7 577.2,197.9" fill="#c4bb48"/></g>
<polygon points="521.6,62.3 526.0,58.4 540.2,55.1 554.4,50.2 576.3,48.6 580.7,52.4 581.8,54.6 579.6,61.2 566.5,71.6 553.3,69.4 541.3,67.7 526.0,65.5 522.1,65.0" fill="#78d278"/>
<polygon points="503.1,122.5 511.6,107.8 523.3,101.6 534.9,95.4 545.0,88.4 552.0,86.2 560.0,83.7 571.7,81.4 583.4,77.8 595.0,74.3 605.0,71.4 622.0,76.5 637.6,81.4 635.7,85.9 631.3,92.6 629.8,97.0 622.3,103.0 611.9,109.7 606.0,112.6 586.9,123.7 584.7,123.5 503.9,131.4 502.0,129.0" fill="#78d278"/>
<polygon points="502.6,167.6 521.0,162.2 571.6,147.5 622.3,133.6 639.6,128.6 654.5,124.9 665.7,121.8 666.9,121.9 668.4,127.3 663.8,135.1 657.6,142.0 650.6,148.2 644.4,153.7 636.8,160.4 622.5,171.2 611.1,179.5 603.5,187.4 588.0,188.5 576.7,188.5 553.2,188.4 550.6,187.5 528.2,179.2" fill="#78d278"/>
<g clip-path="url(#cB1c)"><polygon points="503.1,122.5 511.6,107.8 523.3,101.6 534.9,95.4 545.0,88.4 552.0,86.2 560.0,83.7 571.7,81.4 583.4,77.8 595.0,74.3 605.0,71.4 622.0,76.5 637.6,81.4 635.7,85.9 631.3,92.6 629.8,97.0 622.3,103.0 611.9,109.7 606.0,112.6 586.9,123.7 584.7,123.5 503.9,131.4 502.0,129.0" fill="#59a872"/></g>
<g clip-path="url(#cB2c)"><polygon points="502.6,167.6 521.0,162.2 571.6,147.5 622.3,133.6 639.6,128.6 654.5,124.9 665.7,121.8 666.9,121.9 668.4,127.3 663.8,135.1 657.6,142.0 650.6,148.2 644.4,153.7 636.8,160.4 622.5,171.2 611.1,179.5 603.5,187.4 588.0,188.5 576.7,188.5 553.2,188.4 550.6,187.5 528.2,179.2" fill="#59a872"/></g>
<g clip-path="url(#cY2c)"><polygon points="502.6,167.6 521.0,162.2 571.6,147.5 622.3,133.6 639.6,128.6 654.5,124.9 665.7,121.8 666.9,121.9 668.4,127.3 663.8,135.1 657.6,142.0 650.6,148.2 644.4,153.7 636.8,160.4 622.5,171.2 611.1,179.5 603.5,187.4 588.0,188.5 576.7,188.5 553.2,188.4 550.6,187.5 528.2,179.2" fill="#84c44a"/></g>
<g clip-path="url(#cY3c)"><polygon points="502.6,167.6 521.0,162.2 571.6,147.5 622.3,133.6 639.6,128.6 654.5,124.9 665.7,121.8 666.9,121.9 668.4,127.3 663.8,135.1 657.6,142.0 650.6,148.2 644.4,153.7 636.8,160.4 622.5,171.2 611.1,179.5 603.5,187.4 588.0,188.5 576.7,188.5 553.2,188.4 550.6,187.5 528.2,179.2" fill="#84c44a"/></g>
<polygon points="502.5,128.5 505.7,127.5 510.0,122.3 550.0,118.0 575.0,115.5 605.5,112.3 611.4,114.0 620.7,116.4 627.7,122.2 630.5,123.5 627.5,128.0 619.0,139.0 613.0,146.0 607.0,150.5 572.0,148.2 504.0,135.5 501.5,131.0" fill="#8cf8f8"/>
<g clip-path="url(#cG1c)"><polygon points="502.5,128.5 505.7,127.5 510.0,122.3 550.0,118.0 575.0,115.5 605.5,112.3 611.4,114.0 620.7,116.4 627.7,122.2 630.5,123.5 627.5,128.0 619.0,139.0 613.0,146.0 607.0,150.5 572.0,148.2 504.0,135.5 501.5,131.0" fill="#66e6d4"/></g>
<g clip-path="url(#cG2c)"><polygon points="502.5,128.5 505.7,127.5 510.0,122.3 550.0,118.0 575.0,115.5 605.5,112.3 611.4,114.0 620.7,116.4 627.7,122.2 630.5,123.5 627.5,128.0 619.0,139.0 613.0,146.0 607.0,150.5 572.0,148.2 504.0,135.5 501.5,131.0" fill="#80eecb"/></g>
<polygon points="502.5,128.5 505.7,127.5 530.0,127.3 566.0,125.5 548.0,127.8 517.5,131.0 505.3,132.2 502.5,131.8" fill="#78d8f0"/>
<polygon points="502.5,132.0 517.5,130.8 548.0,127.5 584.7,123.5 586.5,123.5 571.6,147.8 556.0,166.0 509.8,161.5 508.0,152.0 505.0,138.0" fill="#f262f6"/>
<polygon points="627.6,123.0 629.5,122.5 632.4,126.2 630.8,128.6 627.5,125.5" fill="#f262f6"/>
<polygon points="605.1,147.9 613.2,148.7 609.2,151.6" fill="#f262f6"/>
<g clip-path="url(#cCYc)"><polygon points="502.5,132.0 517.5,130.8 548.0,127.5 584.7,123.5 586.5,123.5 571.6,147.8 556.0,166.0 509.8,161.5 508.0,152.0 505.0,138.0" fill="#c862f2"/></g>
<g clip-path="url(#cG2c)"><polygon points="502.5,132.0 517.5,130.8 548.0,127.5 584.7,123.5 586.5,123.5 571.6,147.8 556.0,166.0 509.8,161.5 508.0,152.0 505.0,138.0" fill="#b460c8"/><polygon points="605.1,147.9 613.2,148.7 609.2,151.6" fill="#b460c8"/></g>
<polygon points="543.5,126.5 550.0,122.8 560.0,121.3 569.4,120.5 576.0,121.8 578.0,123.6 573.5,127.2 560.0,128.0 545.5,128.6" fill="#c0486e"/>
<line x1="605" y1="71.6" x2="626.6" y2="82" stroke="#c8405a" stroke-width="2"/>
<polygon points="554.8,103.6 561.0,103.6 558.0,98.0" fill="#7cc450"/>
</g>
<g font-size="11.2" stroke-width="0.22">
<text x="169.4" y="382.3" textLength="23.7" lengthAdjust="spacingAndGlyphs" fill="#333333" stroke="#333333">NiCr</text>
<text x="95.5" y="417.7" textLength="43.1" lengthAdjust="spacingAndGlyphs" fill="#333333" stroke="#333333">Co<tspan dy="2.6" font-size="8.2">2</tspan><tspan dy="-2.6">FeSi</tspan></text>
<text x="193.6" y="411.1" textLength="30.7" lengthAdjust="spacingAndGlyphs" fill="#333333" stroke="#333333">GdAl<tspan dy="2.6" font-size="8.2">2</tspan></text>
<text x="256.0" y="407.0" textLength="11.2" lengthAdjust="spacingAndGlyphs" fill="#2424e6" stroke="#2424e6">Pt</text>
<text x="246.8" y="414.2" textLength="11.4" lengthAdjust="spacingAndGlyphs" fill="#2424e6" stroke="#2424e6">Ta</text>
<text x="112.4" y="437.3" textLength="46.0" lengthAdjust="spacingAndGlyphs" fill="#333333" stroke="#333333">CaMnBi<tspan dy="2.6" font-size="8.2">2</tspan></text>
<text x="111.4" y="444.9" textLength="31.7" lengthAdjust="spacingAndGlyphs" fill="#333333" stroke="#333333">SmCu</text>
<text x="116.5" y="454.3" textLength="46.0" lengthAdjust="spacingAndGlyphs" fill="#333333" stroke="#333333">LaPt<tspan dy="2.6" font-size="8.2">2</tspan><tspan dy="-2.6">Si</tspan><tspan dy="2.6" font-size="8.2">2</tspan></text>
<text x="124.1" y="472.7" textLength="36.3" lengthAdjust="spacingAndGlyphs" fill="#333333" stroke="#333333">GdPtBi</text>
<text x="112.4" y="485.4" textLength="33.7" lengthAdjust="spacingAndGlyphs" fill="#333333" stroke="#333333">YbPtIn</text>
<text x="84.2" y="497.3" textLength="43.5" lengthAdjust="spacingAndGlyphs" fill="#333333" stroke="#333333">CuMnSb</text>
<text x="83.6" y="526.2" textLength="54.0" lengthAdjust="spacingAndGlyphs" fill="#333333" stroke="#333333">SmPd<tspan dy="2.6" font-size="8.2">2</tspan><tspan dy="-2.6">Al</tspan><tspan dy="2.6" font-size="8.2">3</tspan></text>
<text x="155.8" y="468.3" textLength="23.5" lengthAdjust="spacingAndGlyphs" fill="#333333" stroke="#333333">PdSi</text>
<text x="171.5" y="462.9" textLength="25.8" lengthAdjust="spacingAndGlyphs" fill="#333333" stroke="#333333">YCo<tspan dy="2.6" font-size="8.2">5</tspan></text>
<text x="166.3" y="477.2" textLength="43.3" lengthAdjust="spacingAndGlyphs" fill="#333333" stroke="#333333">Co<tspan dy="2.6" font-size="8.2">2</tspan><tspan dy="-2.6">CrAl</tspan></text>
<text x="162.7" y="485.9" textLength="24.4" lengthAdjust="spacingAndGlyphs" fill="#333333" stroke="#333333">FeZr</text>
<text x="218.8" y="490.7" textLength="38.8" lengthAdjust="spacingAndGlyphs" fill="#333333" stroke="#333333">CeNiSn</text>
<text x="215.5" y="533.0" textLength="32.9" lengthAdjust="spacingAndGlyphs" fill="#333333" stroke="#333333">CeRu<tspan dy="2.6" font-size="8.2">2</tspan></text>
<text x="194.6" y="540.6" textLength="30.7" lengthAdjust="spacingAndGlyphs" fill="#333333" stroke="#333333">CeAl<tspan dy="2.6" font-size="8.2">3</tspan></text>
</g>
<circle cx="187.7" cy="385.0" r="2.1" fill="#000"/>
<circle cx="132.1" cy="420.3" r="2.1" fill="#000"/>
<circle cx="218.5" cy="414.2" r="2.1" fill="#000"/>
<circle cx="261.4" cy="410.1" r="2.1" fill="#1a1ae0"/>
<circle cx="253.2" cy="416.8" r="2.1" fill="#1a1ae0"/>
<circle cx="152.4" cy="440.0" r="2.1" fill="#000"/>
<circle cx="137.7" cy="447.2" r="2.1" fill="#000"/>
<circle cx="156.5" cy="456.4" r="2.1" fill="#000"/>
<circle cx="155.0" cy="475.2" r="2.1" fill="#000"/>
<circle cx="141.1" cy="487.9" r="2.1" fill="#000"/>
<circle cx="122.3" cy="499.3" r="2.1" fill="#000"/>
<circle cx="131.4" cy="528.9" r="2.1" fill="#000"/>
<circle cx="173.8" cy="470.9" r="2.1" fill="#000"/>
<circle cx="191.2" cy="465.4" r="2.1" fill="#000"/>
<circle cx="203.8" cy="479.9" r="2.1" fill="#000"/>
<circle cx="181.5" cy="488.8" r="2.1" fill="#000"/>
<circle cx="252.6" cy="493.5" r="2.1" fill="#000"/>
<circle cx="242.9" cy="535.5" r="2.1" fill="#000"/>
<circle cx="218.8" cy="543.6" r="2.1" fill="#000"/>
<rect x="54.5" y="339.0" width="277.0" height="221.5" fill="none" stroke="#1e1e1e" stroke-width="1.1"/>
<path d="M82.5 560.5v-5.5M54.5 560.5h5.5M137.8 560.5v-5.5M54.5 505.1h5.5M193.0 560.5v-5.5M54.5 449.8h5.5M248.2 560.5v-5.5M54.5 394.4h5.5M303.5 560.5v-5.5M54.5 339.0h5.5" stroke="#1e1e1e" stroke-width="1.1" fill="none"/>
<g font-size="15.8" fill="#111" stroke="#111" stroke-width="0.3">
<text x="81.7" y="573.9" text-anchor="middle" textLength="27.0" lengthAdjust="spacingAndGlyphs">−1.0</text>
<text x="52.5" y="567.1" text-anchor="end" textLength="27.0" lengthAdjust="spacingAndGlyphs">−1.0</text>
<text x="136.9" y="573.9" text-anchor="middle" textLength="30.8" lengthAdjust="spacingAndGlyphs">−0.5</text>
<text x="52.5" y="511.7" text-anchor="end" textLength="30.8" lengthAdjust="spacingAndGlyphs">−0.5</text>
<text x="193.0" y="573.9" text-anchor="middle" textLength="22.8" lengthAdjust="spacingAndGlyphs">0.0</text>
<text x="52.5" y="456.4" text-anchor="end" textLength="22.8" lengthAdjust="spacingAndGlyphs">0.0</text>
<text x="248.2" y="573.9" text-anchor="middle" textLength="22.8" lengthAdjust="spacingAndGlyphs">0.5</text>
<text x="52.5" y="401.0" text-anchor="end" textLength="22.8" lengthAdjust="spacingAndGlyphs">0.5</text>
<text x="303.5" y="573.9" text-anchor="middle" textLength="20.0" lengthAdjust="spacingAndGlyphs">1.0</text>
<text x="52.5" y="345.6" text-anchor="end" textLength="20.0" lengthAdjust="spacingAndGlyphs">1.0</text>
</g>
<text x="193.4" y="593.4" font-size="16.6" text-anchor="middle" fill="#111" stroke="#111" stroke-width="0.3" textLength="51.5" lengthAdjust="spacingAndGlyphs"><tspan font-style="italic">x</tspan> (a.u.)</text>
<text transform="translate(14.9,449.2) rotate(-90)" font-size="16.6" text-anchor="middle" fill="#111" stroke="#111" stroke-width="0.3" textLength="51.5" lengthAdjust="spacingAndGlyphs"><tspan font-style="italic">y</tspan> (a.u.)</text>
<text x="14.9" y="330.7" font-size="19.5" font-weight="bold" fill="#000">c</text>
<text x="148.7" y="321.7" font-size="15.3" text-anchor="middle" fill="#111" textLength="24.0" lengthAdjust="spacingAndGlyphs">0.1</text>
<text x="169.0" y="321.7" font-size="17" text-anchor="middle" fill="#111"><</text>
<text x="182.7" y="321.7" font-size="15.5" font-style="italic" text-anchor="middle" fill="#111">ξ</text>
<text x="195.6" y="316.4" font-size="10.6" text-anchor="middle" fill="#111">NN</text>
<text x="197.7" y="325.9" font-size="10.6" text-anchor="middle" fill="#111">SOT</text>
<text x="218.5" y="321.7" font-size="17" text-anchor="middle" fill="#111">≤</text>
<text x="238.3" y="321.7" font-size="15.3" text-anchor="middle" fill="#111" textLength="24.0" lengthAdjust="spacingAndGlyphs">0.2</text>
<defs><clipPath id="cB1d"><polygon points="505.7,127.5 507.5,119.0 510.9,114.1 515.5,109.5 523.3,103.3 532.6,97.8 538.8,94.7 550.0,90.9 560.0,86.5 583.4,79.6 604.4,73.8 612.0,74.5 623.0,75.8 638.6,80.4 637.0,86.2 632.5,93.0 631.0,97.5 623.0,104.0 612.5,110.5 606.5,113.0 575.0,115.5 550.0,118.0 510.0,122.3"/></clipPath><clipPath id="cB2d"><polygon points="576.7,193.0 580.0,185.5 583.0,180.0 592.0,172.0 606.0,161.5 625.0,147.5 640.5,135.8 652.1,128.1 661.4,121.1 665.3,118.8 671.5,121.1 671.5,129.6 671.9,139.7 668.4,149.0 663.8,159.1 659.1,168.0 654.0,176.0 650.5,181.3 643.5,186.5 631.3,191.8 620.8,194.4 613.8,195.5 600.0,202.6 588.0,204.0 574.0,204.0 574.5,198.0"/></clipPath><clipPath id="cG1d"><polygon points="501.6,125.0 507.8,114.1 515.5,105.6 523.3,99.4 531.0,94.7 538.8,90.1 546.5,87.4 560.0,83.7 571.7,81.4 583.4,77.8 595.0,74.3 605.0,71.4 622.0,76.5 637.6,81.4 635.7,85.9 631.3,92.6 629.8,97.0 622.3,103.0 611.9,109.7 606.0,112.6 586.9,123.7 584.7,123.5 503.9,131.4 502.0,129.0"/></clipPath><clipPath id="cG2d"><polygon points="502.6,167.6 521.0,162.2 571.6,147.5 622.3,133.6 639.6,128.6 654.5,124.9 665.7,121.8 666.9,121.9 668.4,127.3 663.8,135.1 657.6,142.0 650.6,148.2 644.4,153.7 636.8,160.4 622.5,171.2 611.1,179.5 603.5,187.4 588.0,188.5 576.7,188.5 553.2,188.4 550.6,187.5 528.2,179.2"/></clipPath><clipPath id="cCYd"><polygon points="502.5,128.5 505.7,127.5 510.0,122.3 550.0,118.0 575.0,115.5 605.5,112.3 611.4,114.0 620.7,116.4 627.7,122.2 630.5,123.5 627.5,128.0 619.0,139.0 613.0,146.0 607.0,150.5 572.0,148.2 504.0,135.5 501.5,131.0"/></clipPath><clipPath id="cY2d"><polygon points="626.9,162.0 636.5,160.7 654.0,174.7 654.9,178.6 651.4,183.9 647.9,190.0 641.8,193.5 631.3,195.7 620.8,195.3 613.3,193.5 615.5,186.5 619.0,177.8 622.5,170.8"/></clipPath><clipPath id="cY3d"><polygon points="581.7,188.8 585.2,179.8 592.9,178.4 601.3,181.2 602.0,190.9 599.9,201.4 597.8,205.6 597.1,213.3 579.0,212.6 573.4,210.5 572.7,206.3 575.5,200.7 577.2,197.9"/></clipPath></defs>
<g transform="translate(0,307)">
<polygon points="505.7,127.5 507.5,119.0 510.9,114.1 515.5,109.5 523.3,103.3 532.6,97.8 538.8,94.7 550.0,90.9 560.0,86.5 583.4,79.6 604.4,73.8 612.0,74.5 623.0,75.8 638.6,80.4 637.0,86.2 632.5,93.0 631.0,97.5 623.0,104.0 612.5,110.5 606.5,113.0 575.0,115.5 550.0,118.0 510.0,122.3" fill="#6c7ee4"/>
<polygon points="576.7,193.0 580.0,185.5 583.0,180.0 592.0,172.0 606.0,161.5 625.0,147.5 640.5,135.8 652.1,128.1 661.4,121.1 665.3,118.8 671.5,121.1 671.5,129.6 671.9,139.7 668.4,149.0 663.8,159.1 659.1,168.0 654.0,176.0 650.5,181.3 643.5,186.5 631.3,191.8 620.8,194.4 613.8,195.5 600.0,202.6 588.0,204.0 574.0,204.0 574.5,198.0" fill="#6c7ee4"/>
<polygon points="485.5,158.0 491.0,151.0 497.5,146.5 502.0,148.5 504.5,152.0 508.0,162.1 509.4,168.0 512.6,178.0 521.3,198.4 527.9,221.8 527.2,227.6 524.2,227.6 503.8,218.8 484.8,207.2 482.6,201.3 484.0,183.8" fill="#eeec4a"/>
<polygon points="626.9,162.0 636.5,160.7 654.0,174.7 654.9,178.6 651.4,183.9 647.9,190.0 641.8,193.5 631.3,195.7 620.8,195.3 613.3,193.5 615.5,186.5 619.0,177.8 622.5,170.8" fill="#eeec4a"/>
<polygon points="581.7,188.8 585.2,179.8 592.9,178.4 601.3,181.2 602.0,190.9 599.9,201.4 597.8,205.6 597.1,213.3 579.0,212.6 573.4,210.5 572.7,206.3 575.5,200.7 577.2,197.9" fill="#eeec4a"/>
<g clip-path="url(#cB2d)"><polygon points="626.9,162.0 636.5,160.7 654.0,174.7 654.9,178.6 651.4,183.9 647.9,190.0 641.8,193.5 631.3,195.7 620.8,195.3 613.3,193.5 615.5,186.5 619.0,177.8 622.5,170.8" fill="#c4bb48"/><polygon points="581.7,188.8 585.2,179.8 592.9,178.4 601.3,181.2 602.0,190.9 599.9,201.4 597.8,205.6 597.1,213.3 579.0,212.6 573.4,210.5 572.7,206.3 575.5,200.7 577.2,197.9" fill="#c4bb48"/></g>
<polygon points="521.6,62.3 526.0,58.4 540.2,55.1 554.4,50.2 576.3,48.6 580.7,52.4 581.8,54.6 579.6,61.2 566.5,71.6 553.3,69.4 541.3,67.7 526.0,65.5 522.1,65.0" fill="#78d278"/>
<polygon points="501.6,125.0 507.8,114.1 515.5,105.6 523.3,99.4 531.0,94.7 538.8,90.1 546.5,87.4 560.0,83.7 571.7,81.4 583.4,77.8 595.0,74.3 605.0,71.4 622.0,76.5 637.6,81.4 635.7,85.9 631.3,92.6 629.8,97.0 622.3,103.0 611.9,109.7 606.0,112.6 586.9,123.7 584.7,123.5 503.9,131.4 502.0,129.0" fill="#78d278"/>
<polygon points="502.6,167.6 521.0,162.2 571.6,147.5 622.3,133.6 639.6,128.6 654.5,124.9 665.7,121.8 666.9,121.9 668.4,127.3 663.8,135.1 657.6,142.0 650.6,148.2 644.4,153.7 636.8,160.4 622.5,171.2 611.1,179.5 603.5,187.4 588.0,188.5 576.7,188.5 553.2,188.4 550.6,187.5 528.2,179.2" fill="#78d278"/>
<g clip-path="url(#cB1d)"><polygon points="501.6,125.0 507.8,114.1 515.5,105.6 523.3,99.4 531.0,94.7 538.8,90.1 546.5,87.4 560.0,83.7 571.7,81.4 583.4,77.8 595.0,74.3 605.0,71.4 622.0,76.5 637.6,81.4 635.7,85.9 631.3,92.6 629.8,97.0 622.3,103.0 611.9,109.7 606.0,112.6 586.9,123.7 584.7,123.5 503.9,131.4 502.0,129.0" fill="#59a872"/></g>
<g clip-path="url(#cB2d)"><polygon points="502.6,167.6 521.0,162.2 571.6,147.5 622.3,133.6 639.6,128.6 654.5,124.9 665.7,121.8 666.9,121.9 668.4,127.3 663.8,135.1 657.6,142.0 650.6,148.2 644.4,153.7 636.8,160.4 622.5,171.2 611.1,179.5 603.5,187.4 588.0,188.5 576.7,188.5 553.2,188.4 550.6,187.5 528.2,179.2" fill="#59a872"/></g>
<g clip-path="url(#cY2d)"><polygon points="502.6,167.6 521.0,162.2 571.6,147.5 622.3,133.6 639.6,128.6 654.5,124.9 665.7,121.8 666.9,121.9 668.4,127.3 663.8,135.1 657.6,142.0 650.6,148.2 644.4,153.7 636.8,160.4 622.5,171.2 611.1,179.5 603.5,187.4 588.0,188.5 576.7,188.5 553.2,188.4 550.6,187.5 528.2,179.2" fill="#84c44a"/></g>
<g clip-path="url(#cY3d)"><polygon points="502.6,167.6 521.0,162.2 571.6,147.5 622.3,133.6 639.6,128.6 654.5,124.9 665.7,121.8 666.9,121.9 668.4,127.3 663.8,135.1 657.6,142.0 650.6,148.2 644.4,153.7 636.8,160.4 622.5,171.2 611.1,179.5 603.5,187.4 588.0,188.5 576.7,188.5 553.2,188.4 550.6,187.5 528.2,179.2" fill="#84c44a"/></g>
<polygon points="502.5,128.5 505.7,127.5 510.0,122.3 550.0,118.0 575.0,115.5 605.5,112.3 611.4,114.0 620.7,116.4 627.7,122.2 630.5,123.5 627.5,128.0 619.0,139.0 613.0,146.0 607.0,150.5 572.0,148.2 504.0,135.5 501.5,131.0" fill="#8cf8f8"/>
<g clip-path="url(#cG1d)"><polygon points="502.5,128.5 505.7,127.5 510.0,122.3 550.0,118.0 575.0,115.5 605.5,112.3 611.4,114.0 620.7,116.4 627.7,122.2 630.5,123.5 627.5,128.0 619.0,139.0 613.0,146.0 607.0,150.5 572.0,148.2 504.0,135.5 501.5,131.0" fill="#66e6d4"/></g>
<g clip-path="url(#cG2d)"><polygon points="502.5,128.5 505.7,127.5 510.0,122.3 550.0,118.0 575.0,115.5 605.5,112.3 611.4,114.0 620.7,116.4 627.7,122.2 630.5,123.5 627.5,128.0 619.0,139.0 613.0,146.0 607.0,150.5 572.0,148.2 504.0,135.5 501.5,131.0" fill="#80eecb"/></g>
<polygon points="502.5,128.5 505.7,127.5 530.0,127.3 566.0,125.5 548.0,127.8 517.5,131.0 505.3,132.2 502.5,131.8" fill="#78d8f0"/>
<polygon points="502.5,132.0 517.5,130.8 548.0,127.5 584.7,123.5 586.5,123.5 571.6,147.8 556.0,166.0 509.8,161.5 508.0,152.0 505.0,138.0" fill="#f262f6"/>
<polygon points="627.6,123.0 629.5,122.5 632.4,126.2 630.8,128.6 627.5,125.5" fill="#f262f6"/>
<polygon points="605.1,147.9 613.2,148.7 609.2,151.6" fill="#f262f6"/>
<g clip-path="url(#cCYd)"><polygon points="502.5,132.0 517.5,130.8 548.0,127.5 584.7,123.5 586.5,123.5 571.6,147.8 556.0,166.0 509.8,161.5 508.0,152.0 505.0,138.0" fill="#c862f2"/></g>
<g clip-path="url(#cG2d)"><polygon points="502.5,132.0 517.5,130.8 548.0,127.5 584.7,123.5 586.5,123.5 571.6,147.8 556.0,166.0 509.8,161.5 508.0,152.0 505.0,138.0" fill="#b460c8"/><polygon points="605.1,147.9 613.2,148.7 609.2,151.6" fill="#b460c8"/></g>
<polygon points="543.5,126.5 550.0,122.8 560.0,121.3 569.4,120.5 576.0,121.8 578.0,123.6 573.5,127.2 560.0,128.0 545.5,128.6" fill="#c0486e"/>
<line x1="605" y1="71.6" x2="626.6" y2="82" stroke="#c8405a" stroke-width="2"/>
<polygon points="554.8,103.6 561.0,103.6 558.0,98.0" fill="#7cc450"/>
</g>
<g font-size="11.2" stroke-width="0.22">
<text x="540.5" y="357.7" textLength="21.3" lengthAdjust="spacingAndGlyphs" fill="#333333" stroke="#333333">PtSi</text>
<text x="559.1" y="368.2" textLength="22.1" lengthAdjust="spacingAndGlyphs" fill="#333333" stroke="#333333">NiSi</text>
<text x="528.6" y="372.7" textLength="25.6" lengthAdjust="spacingAndGlyphs" fill="#333333" stroke="#333333">NiGe</text>
<text x="495.3" y="379.2" textLength="26.2" lengthAdjust="spacingAndGlyphs" fill="#333333" stroke="#333333">ErAs</text>
<text x="525.0" y="400.3" textLength="26.5" lengthAdjust="spacingAndGlyphs" fill="#333333" stroke="#333333">FeCu</text>
<text x="555.0" y="402.3" textLength="27.2" lengthAdjust="spacingAndGlyphs" fill="#333333" stroke="#333333">AuFe</text>
<text x="602.0" y="403.8" textLength="46.6" lengthAdjust="spacingAndGlyphs" fill="#333333" stroke="#333333">Co<tspan dy="2.6" font-size="8.2">2</tspan><tspan dy="-2.6">MnSi</tspan></text>
<text x="453.4" y="408.5" textLength="33.9" lengthAdjust="spacingAndGlyphs" fill="#333333" stroke="#333333">FeSiAl</text>
<text x="510.6" y="412.6" textLength="24.1" lengthAdjust="spacingAndGlyphs" fill="#333333" stroke="#333333">PdNi</text>
<text x="494.7" y="428.5" textLength="26.8" lengthAdjust="spacingAndGlyphs" fill="#333333" stroke="#333333">NbZr</text>
<text x="523.5" y="428.5" textLength="18.8" lengthAdjust="spacingAndGlyphs" fill="#333333" stroke="#333333">PtIr</text>
<text x="456.5" y="431.6" textLength="37.4" lengthAdjust="spacingAndGlyphs" fill="#333333" stroke="#333333">CaIrSi<tspan dy="2.6" font-size="8.2">3</tspan></text>
<text x="475.3" y="444.5" textLength="36.6" lengthAdjust="spacingAndGlyphs" fill="#333333" stroke="#333333">EuS/Al</text>
<text x="532.6" y="443.7" textLength="27.2" lengthAdjust="spacingAndGlyphs" fill="#333333" stroke="#333333">MnBi</text>
<text x="516.8" y="451.7" textLength="25.7" lengthAdjust="spacingAndGlyphs" fill="#333333" stroke="#333333">CuTe</text>
<text x="469.8" y="457.2" textLength="27.8" lengthAdjust="spacingAndGlyphs" fill="#333333" stroke="#333333">RhSn</text>
<text x="470.4" y="468.0" textLength="25.1" lengthAdjust="spacingAndGlyphs" fill="#333333" stroke="#333333">PtGa</text>
<text x="505.5" y="466.0" textLength="39.9" lengthAdjust="spacingAndGlyphs" fill="#333333" stroke="#333333">PtMnSb</text>
<text x="494.3" y="476.2" textLength="26.1" lengthAdjust="spacingAndGlyphs" fill="#333333" stroke="#333333">CrGe</text>
<text x="521.2" y="479.6" textLength="41.1" lengthAdjust="spacingAndGlyphs" fill="#333333" stroke="#333333">PdCoO<tspan dy="2.6" font-size="8.2">2</tspan></text>
<text x="544.9" y="490.5" textLength="26.3" lengthAdjust="spacingAndGlyphs" fill="#333333" stroke="#333333">CuCr</text>
<text x="636.0" y="440.6" textLength="26.8" lengthAdjust="spacingAndGlyphs" fill="#333333" stroke="#333333">RuO<tspan dy="2.6" font-size="8.2">2</tspan></text>
<text x="610.3" y="449.9" textLength="41.3" lengthAdjust="spacingAndGlyphs" fill="#333333" stroke="#333333">NiMnSb</text>
<text x="423.4" y="470.1" textLength="28.0" lengthAdjust="spacingAndGlyphs" fill="#333333" stroke="#333333">CrMn</text>
<text x="428.3" y="482.3" textLength="30.4" lengthAdjust="spacingAndGlyphs" fill="#333333" stroke="#333333">TmSb</text>
<text x="464.3" y="489.1" textLength="49.0" lengthAdjust="spacingAndGlyphs" fill="#333333" stroke="#333333">YbRh<tspan dy="2.6" font-size="8.2">2</tspan><tspan dy="-2.6">Si</tspan><tspan dy="2.6" font-size="8.2">2</tspan></text>
<text x="483.5" y="506.9" textLength="32.9" lengthAdjust="spacingAndGlyphs" fill="#333333" stroke="#333333">NbFe<tspan dy="2.6" font-size="8.2">2</tspan></text>
<text x="520.4" y="507.2" textLength="40.1" lengthAdjust="spacingAndGlyphs" fill="#333333" stroke="#333333">CePt<tspan dy="2.6" font-size="8.2">3</tspan><tspan dy="-2.6">Si</tspan></text>
<text x="474.9" y="515.0" textLength="28.2" lengthAdjust="spacingAndGlyphs" fill="#333333" stroke="#333333">TiBe<tspan dy="2.6" font-size="8.2">2</tspan></text>
<text x="474.0" y="541.3" textLength="39.5" lengthAdjust="spacingAndGlyphs" fill="#333333" stroke="#333333">PdCrO<tspan dy="2.6" font-size="8.2">2</tspan></text>
</g>
<circle cx="556.1" cy="360.0" r="2.1" fill="#000"/>
<circle cx="575.2" cy="370.7" r="2.1" fill="#000"/>
<circle cx="548.3" cy="375.2" r="2.1" fill="#000"/>
<circle cx="516.1" cy="381.9" r="2.1" fill="#000"/>
<circle cx="546.1" cy="403.0" r="2.1" fill="#000"/>
<circle cx="577.2" cy="405.0" r="2.1" fill="#000"/>
<circle cx="642.6" cy="406.4" r="2.1" fill="#000"/>
<circle cx="482.3" cy="410.9" r="2.1" fill="#000"/>
<circle cx="529.7" cy="415.2" r="2.1" fill="#000"/>
<circle cx="515.6" cy="430.5" r="2.1" fill="#000"/>
<circle cx="536.9" cy="430.9" r="2.1" fill="#000"/>
<circle cx="487.9" cy="434.0" r="2.1" fill="#000"/>
<circle cx="506.9" cy="447.2" r="2.1" fill="#000"/>
<circle cx="553.4" cy="445.2" r="2.1" fill="#000"/>
<circle cx="536.9" cy="454.3" r="2.1" fill="#000"/>
<circle cx="491.9" cy="459.2" r="2.1" fill="#000"/>
<circle cx="490.5" cy="471.1" r="2.1" fill="#000"/>
<circle cx="541.0" cy="468.4" r="2.1" fill="#000"/>
<circle cx="515.4" cy="478.7" r="2.1" fill="#000"/>
<circle cx="555.7" cy="481.9" r="2.1" fill="#000"/>
<circle cx="566.0" cy="493.6" r="2.1" fill="#000"/>
<circle cx="657.4" cy="443.4" r="2.1" fill="#000"/>
<circle cx="646.1" cy="452.2" r="2.1" fill="#000"/>
<circle cx="446.2" cy="472.7" r="2.1" fill="#000"/>
<circle cx="453.1" cy="485.8" r="2.1" fill="#000"/>
<circle cx="507.5" cy="492.6" r="2.1" fill="#000"/>
<circle cx="510.5" cy="509.3" r="2.1" fill="#000"/>
<circle cx="554.6" cy="510.0" r="2.1" fill="#000"/>
<circle cx="497.3" cy="518.1" r="2.1" fill="#000"/>
<circle cx="507.4" cy="544.3" r="2.1" fill="#000"/>
<rect x="406.5" y="339.0" width="277.0" height="221.5" fill="none" stroke="#1e1e1e" stroke-width="1.1"/>
<path d="M434.5 560.5v-5.5M406.5 560.5h5.5M489.8 560.5v-5.5M406.5 505.1h5.5M545.0 560.5v-5.5M406.5 449.8h5.5M600.2 560.5v-5.5M406.5 394.4h5.5M655.5 560.5v-5.5M406.5 339.0h5.5" stroke="#1e1e1e" stroke-width="1.1" fill="none"/>
<g font-size="15.8" fill="#111" stroke="#111" stroke-width="0.3">
<text x="433.7" y="573.9" text-anchor="middle" textLength="27.0" lengthAdjust="spacingAndGlyphs">−1.0</text>
<text x="404.5" y="567.1" text-anchor="end" textLength="27.0" lengthAdjust="spacingAndGlyphs">−1.0</text>
<text x="488.9" y="573.9" text-anchor="middle" textLength="30.8" lengthAdjust="spacingAndGlyphs">−0.5</text>
<text x="404.5" y="511.7" text-anchor="end" textLength="30.8" lengthAdjust="spacingAndGlyphs">−0.5</text>
<text x="545.0" y="573.9" text-anchor="middle" textLength="22.8" lengthAdjust="spacingAndGlyphs">0.0</text>
<text x="404.5" y="456.4" text-anchor="end" textLength="22.8" lengthAdjust="spacingAndGlyphs">0.0</text>
<text x="600.2" y="573.9" text-anchor="middle" textLength="22.8" lengthAdjust="spacingAndGlyphs">0.5</text>
<text x="404.5" y="401.0" text-anchor="end" textLength="22.8" lengthAdjust="spacingAndGlyphs">0.5</text>
<text x="655.5" y="573.9" text-anchor="middle" textLength="20.0" lengthAdjust="spacingAndGlyphs">1.0</text>
<text x="404.5" y="345.6" text-anchor="end" textLength="20.0" lengthAdjust="spacingAndGlyphs">1.0</text>
</g>
<text x="545.4" y="593.4" font-size="16.6" text-anchor="middle" fill="#111" stroke="#111" stroke-width="0.3" textLength="51.5" lengthAdjust="spacingAndGlyphs"><tspan font-style="italic">x</tspan> (a.u.)</text>
<text transform="translate(366.9,449.2) rotate(-90)" font-size="16.6" text-anchor="middle" fill="#111" stroke="#111" stroke-width="0.3" textLength="51.5" lengthAdjust="spacingAndGlyphs"><tspan font-style="italic">y</tspan> (a.u.)</text>
<text x="366.9" y="330.7" font-size="19.5" font-weight="bold" fill="#000">d</text>
<text x="514.0" y="321.7" font-size="15.5" font-style="italic" text-anchor="middle" fill="#111">ξ</text>
<text x="527.2" y="316.4" font-size="10.6" text-anchor="middle" fill="#111">NN</text>
<text x="528.5" y="325.9" font-size="10.6" text-anchor="middle" fill="#111">SOT</text>
<text x="548.5" y="321.7" font-size="17" text-anchor="middle" fill="#111">≤</text>
<text x="568.6" y="321.7" font-size="15.3" text-anchor="middle" fill="#111" textLength="24.0" lengthAdjust="spacingAndGlyphs">0.1</text>
<line x1="60.0" y1="620.0" x2="87.5" y2="620.0" stroke="#6c7ee4" stroke-width="3.2"/>
<text x="95.5" y="624.6" font-size="12.6" fill="#222" stroke="#222" stroke-width="0.25" textLength="70.8" lengthAdjust="spacingAndGlyphs">Ferromagnet</text>
<line x1="60.0" y1="637.0" x2="87.5" y2="637.0" stroke="#eeec4a" stroke-width="3.2"/>
<text x="95.5" y="641.6" font-size="12.6" fill="#222" stroke="#222" stroke-width="0.25" textLength="89.8" lengthAdjust="spacingAndGlyphs">Antiferromagnet</text>
<line x1="207.5" y1="620.0" x2="235.0" y2="620.0" stroke="#78d278" stroke-width="3.2"/>
<text x="243.3" y="624.6" font-size="12.6" fill="#222" stroke="#222" stroke-width="0.25" textLength="80.8" lengthAdjust="spacingAndGlyphs">Spin Hall Effect</text>
<line x1="388.5" y1="620.0" x2="416.0" y2="620.0" stroke="#88f6f0" stroke-width="3.2"/>
<text x="423.8" y="624.6" font-size="12.6" fill="#222" stroke="#222" stroke-width="0.25" textLength="112.5" lengthAdjust="spacingAndGlyphs">Topological Insulator</text>
<line x1="388.5" y1="637.0" x2="416.0" y2="637.0" stroke="#e86ee8" stroke-width="3.2"/>
<text x="423.8" y="641.6" font-size="12.6" fill="#222" stroke="#222" stroke-width="0.25" textLength="121.5" lengthAdjust="spacingAndGlyphs">Topological Semimetal</text>
<line x1="567.8" y1="620.0" x2="596.0" y2="620.0" stroke="#e0507e" stroke-width="3.2"/>
<text x="604.0" y="624.6" font-size="12.6" fill="#222" stroke="#222" stroke-width="0.25" textLength="40.3" lengthAdjust="spacingAndGlyphs">Rashba</text>
</svg>
</body></html>
